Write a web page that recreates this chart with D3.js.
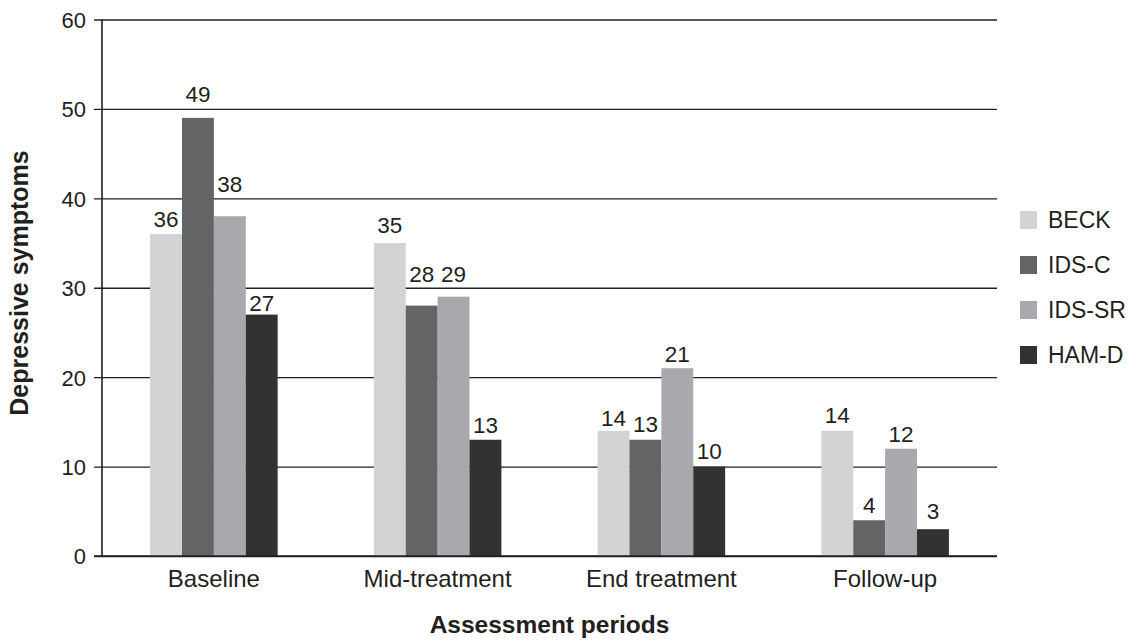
<!DOCTYPE html>
<html>
<head>
<meta charset="utf-8">
<script src="https://cdn.jsdelivr.net/npm/d3@7"></script>
<style>
  html, body { margin: 0; padding: 0; background: #fff; }
  svg { display: block; font-family: "Liberation Sans", Arial, Helvetica, sans-serif; }
</style>
</head>
<body>
<svg id="chart" width="1137" height="643"></svg>
<script>
// Assessment periods and the four depression scales
const categories = ["Baseline", "Mid-treatment", "End treatment", "Follow-up"];
const seriesNames = ["BECK", "IDS-C", "IDS-SR", "HAM-D"];

// Scores per period, one array per scale
const beck  = [36, 35, 14, 14];
const idsC  = [49, 28, 13, 4];
const idsSR = [38, 29, 21, 12];
const hamD  = [27, 13, 10, 3];

const yTicks = [0, 10, 20, 30, 40, 50, 60];

// Layout and styling
const W = 1137, H = 643;
const plot = { left: 102, right: 997, top: 19.5, bottom: 556 };
const colors = ["#d1d3d4", "#636466", "#a8a9ac", "#333132"];
const lineColor = "#231f20";
// Distance (px) from each value label's baseline to its bar top, per period then scale
const labelLift = [
  [7, 16, 24, 4],
  [10, 24, 15, 7],
  [5, 8, 6, 8],
  [8, 7, 7, 10]
];

const seriesValues = [beck, idsC, idsSR, hamD];
const rows = categories.map((c, i) => ({
  category: c,
  values: seriesNames.map((s, j) => ({ series: s, idx: j, value: seriesValues[j][i], lift: labelLift[i][j] }))
}));

const svg = d3.select("#chart");

const x0 = d3.scaleBand()
  .domain(categories)
  .range([plot.left, plot.right])
  .paddingInner(0.43)
  .paddingOuter(0.215);

const x1 = d3.scaleBand()
  .domain(seriesNames)
  .range([0, x0.bandwidth()])
  .padding(0);

const y = d3.scaleLinear()
  .domain([0, 60])
  .range([plot.bottom, plot.top]);

// Horizontal gridlines with left tick marks
const yAxis = d3.axisLeft(y)
  .tickValues(yTicks)
  .tickSize(-(plot.right - plot.left))
  .tickPadding(16)
  .tickFormat(d3.format("d"));

const gy = svg.append("g")
  .attr("transform", `translate(${plot.left},0)`)
  .call(yAxis);
gy.select(".domain").remove();
gy.selectAll(".tick line")
  .attr("x1", -8)
  .attr("stroke", lineColor)
  .attr("stroke-width", 1.4);
gy.selectAll(".tick text")
  .attr("fill", "#231f20")
  .attr("font-size", 22)
  .attr("dy", "0.36em");

// Bars
const groups = svg.append("g")
  .selectAll("g")
  .data(rows)
  .join("g")
  .attr("transform", d => `translate(${x0(d.category)},0)`);

groups.selectAll("rect")
  .data(d => d.values)
  .join("rect")
  .attr("x", d => x1(d.series))
  .attr("y", d => y(d.value))
  .attr("width", x1.bandwidth())
  .attr("height", d => y(0) - y(d.value))
  .attr("fill", d => colors[d.idx]);

// Value labels
groups.selectAll("text")
  .data(d => d.values)
  .join("text")
  .attr("x", d => x1(d.series) + x1.bandwidth() / 2)
  .attr("y", d => y(d.value) - d.lift)
  .attr("text-anchor", "middle")
  .attr("font-size", 22.5)
  .attr("fill", "#231f20")
  .text(d => d.value);

// Baseline (zero line) and vertical axis line drawn over the bars
svg.append("line")
  .attr("x1", plot.left - 8).attr("x2", plot.right)
  .attr("y1", y(0)).attr("y2", y(0))
  .attr("stroke", lineColor).attr("stroke-width", 1.6);
svg.append("line")
  .attr("x1", plot.left).attr("x2", plot.left)
  .attr("y1", y(60)).attr("y2", y(0))
  .attr("stroke", lineColor).attr("stroke-width", 1.6);

// Category labels
svg.append("g")
  .selectAll("text")
  .data(categories)
  .join("text")
  .attr("x", d => x0(d) + x0.bandwidth() / 2)
  .attr("y", 587)
  .attr("text-anchor", "middle")
  .attr("font-size", 24)
  .attr("fill", "#231f20")
  .text(d => d);

// Axis titles
svg.append("text")
  .attr("x", (plot.left + plot.right) / 2)
  .attr("y", 633)
  .attr("text-anchor", "middle")
  .attr("font-size", 24.5)
  .attr("font-weight", "bold")
  .attr("fill", "#231f20")
  .text("Assessment periods");

svg.append("text")
  .attr("transform", `translate(28,283) rotate(-90)`)
  .attr("text-anchor", "middle")
  .attr("font-size", 25)
  .attr("font-weight", "bold")
  .attr("fill", "#231f20")
  .text("Depressive symptoms");

// Legend
const legend = svg.append("g")
  .selectAll("g")
  .data(seriesNames)
  .join("g")
  .attr("transform", (d, i) => `translate(1020,${211 + i * 45})`);
legend.append("rect")
  .attr("width", 17).attr("height", 18)
  .attr("fill", (d, i) => colors[i]);
legend.append("text")
  .attr("x", 28).attr("y", 17)
  .attr("font-size", 23)
  .attr("fill", "#231f20")
  .text(d => d);
</script>
</body>
</html>
